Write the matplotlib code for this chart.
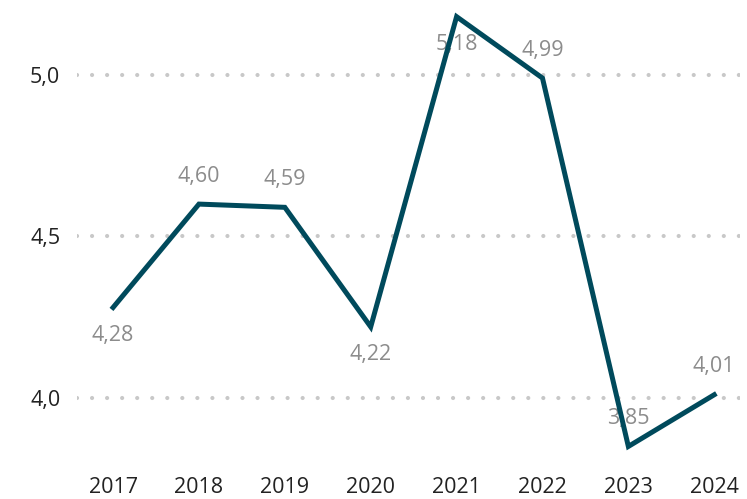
import matplotlib.pyplot as plt

years = ['2017', '2018', '2019', '2020', '2021', '2022', '2023', '2024']
values = [4.28, 4.60, 4.59, 4.22, 5.18, 4.99, 3.85, 4.01]
labels = ['4,28', '4,60', '4,59', '4,22', '5,18', '4,99', '3,85', '4,01']
label_pos = ['below', 'above', 'above', 'below', 'below', 'above', 'above', 'above']
yticks = [4.0, 4.5, 5.0]
ytick_labels = ['4,0', '4,5', '5,0']

plt.rcParams['font.family'] = ['Open Sans', 'DejaVu Sans']

fig = plt.figure(figsize=(7.47, 4.99), dpi=100)
ax = fig.add_axes([77 / 747, 0.060, 663 / 747, 0.926])

x = list(range(len(years)))
ax.plot(x, values, color='#004a5c', linewidth=3.6, solid_joinstyle='miter', zorder=3)

for i, v in enumerate(values):
    dy = 20 if label_pos[i] == 'above' else -20
    ax.annotate(labels[i], (i, v), xytext=(0, dy), textcoords='offset points',
                ha='center', va='center', fontsize=15.5, color='#8c8c8c', zorder=2)

ax.set_xlim(-0.42, 7.3)
ax.set_ylim(3.78, 5.21)
ax.set_xticks(x)
ax.set_xticklabels(years, fontsize=15.5, color='#222222')
ax.set_yticks(yticks)
ax.set_yticklabels(ytick_labels, fontsize=15.5, color='#222222')
ax.tick_params(axis='y', length=0, pad=12)
ax.tick_params(axis='x', length=0, pad=6)
ax.yaxis.grid(True, linestyle=(0, (0.01, 3.6)), linewidth=3, color='#c8c8c8',
              dash_capstyle='round')
for s in ax.spines.values():
    s.set_visible(False)

fig.savefig('out.png', dpi=100)
